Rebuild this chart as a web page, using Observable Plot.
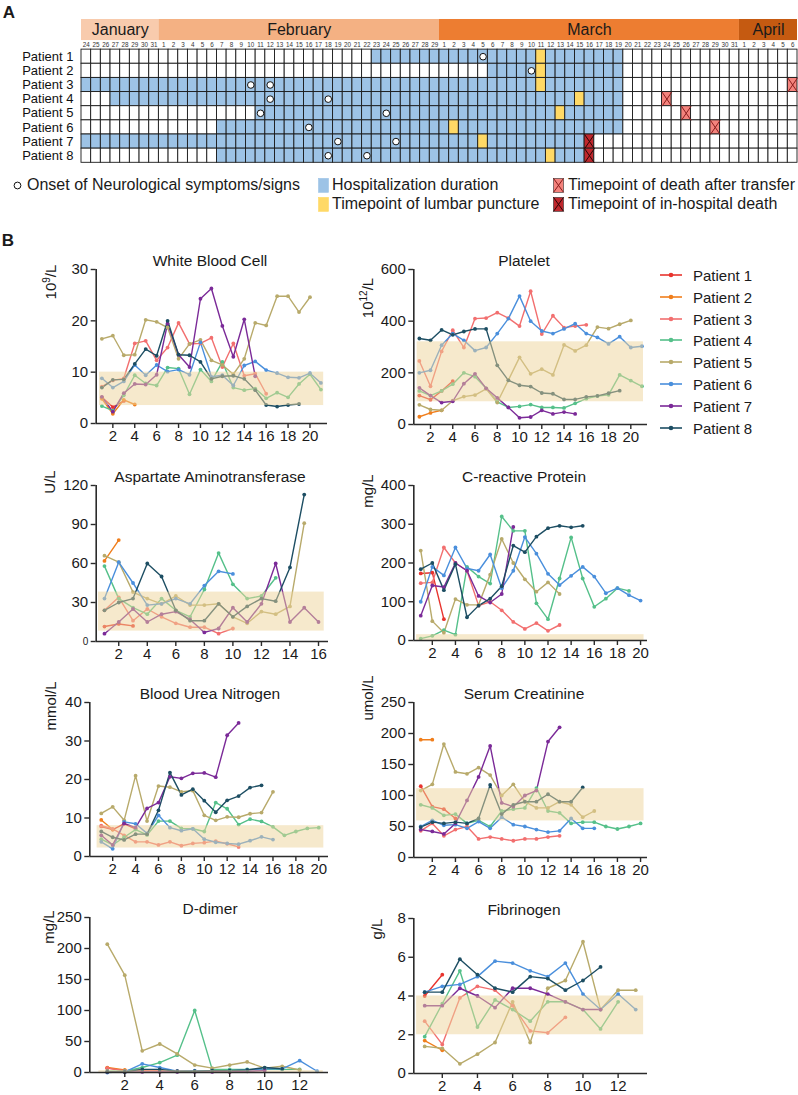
<!DOCTYPE html>
<html><head><meta charset="utf-8">
<script src="https://cdn.jsdelivr.net/npm/d3@7"></script>
<script src="https://cdn.jsdelivr.net/npm/@observablehq/plot@0.6"></script>
<style>
body{margin:0;background:#fff;font-family:"Liberation Sans",Arial,sans-serif;color:#1a1a1a;}
#root{position:relative;width:798px;height:1095px;overflow:hidden;background:#fff;}
.c{position:absolute;white-space:nowrap;transform:translate(-50%,-50%);line-height:1;}
.l{position:absolute;white-space:nowrap;transform:translate(0,-50%);line-height:1;}
.u{position:absolute;white-space:nowrap;transform:translate(-50%,-50%) rotate(-90deg);line-height:1;font-size:15px;}
.u sup{font-size:10px;vertical-align:6px;line-height:0;}
svg{overflow:visible;}
</style></head><body><div id="root"></div><script>
// ---------- Panel A data ----------
const monthNames = ["January", "February", "March", "April"];
const monthFirstDay = [24, 1, 1, 1];
const monthLastDay = [31, 29, 31, 6];
const monthColors = ["#f8cbad", "#f4b183", "#ed7d31", "#c55a11"];
const patients = ["Patient 1", "Patient 2", "Patient 3", "Patient 4", "Patient 5", "Patient 6", "Patient 7", "Patient 8"];
const patientColors = ["#e8342e", "#f07e1c", "#f26f6f", "#55c08a", "#b8aa6b", "#4a8fdc", "#7b2a98", "#1d4e63"];
const hospStart = ["Feb 23", "Mar 6", "Jan 24", "Jan 27", "Feb 11", "Feb 7", "Jan 24", "Feb 7"];
const hospEnd = ["Mar 19", "Mar 19", "Mar 19", "Mar 19", "Mar 19", "Mar 19", "Mar 15", "Mar 15"];
const onsetDates = [["Mar 5"], ["Mar 10"], ["Feb 10", "Feb 12"], ["Feb 12", "Feb 18"], ["Feb 11", "Feb 24"], ["Feb 16"], ["Feb 19", "Feb 25"], ["Feb 18", "Feb 22"]];
const lumbarDates = ["Mar 11", "Mar 11", "Mar 11", "Mar 15", "Mar 13", "Mar 2", "Mar 5", "Mar 12"];
const deathTransferDates = [null, null, "Apr 6", "Mar 24", "Mar 26", "Mar 29", null, null];
const deathHospitalDates = [null, null, null, null, null, null, "Mar 16", "Mar 16"];

// ---------- Panel B data (one array per patient, day 1..n) ----------
const wbc = [
 [5.1, 3.2, 4.4],
 [4.8, 1.9, 4.6, 3.7],
 [7.2, 8.4, 8.8, 15.6, 16.1, 12.3, 14.8, 19.6, 15.5, 15.6, 16.7, 11.0, 15.6, 9.3, 9.7, 5.8],
 [3.4, 2.5, 5.5, 9.4, 7.8, 7.4, 10.9, 10.7, 5.7, 10.5, 8.2, 12.0, 7.0, 6.5, 6.8, 4.9, 6.0, 5.1, 7.7, 9.6, 6.6],
 [16.5, 17.1, 13.3, 13.4, 20.2, 19.8, 18.7, 12.6, 15.5, 16.3, 12.3, 11.4, 9.6, 12.6, 19.6, 19.1, 24.8, 24.8, 21.7, 24.6],
 [8.8, 7.0, 8.2, 11.4, 9.4, 11.4, 10.1, 10.5, 9.5, 15.8, 9.1, 9.4, 7.4, 11.3, 12.1, 10.4, 9.8, 9.0, 8.9, 9.8, 7.9],
 [5.2, 2.3, 5.9, 7.7, 7.6, 9.5, 19.5, 13.4, 11.0, 24.3, 26.3, 19.0, 13.0, 20.3, 9.2],
 [7.0, 8.5, 8.6, 11.6, 14.5, 13.2, 20.0, 13.4, 13.3, 12.0, 8.7, 9.2, 9.3, 8.7, 6.5, 3.6, 3.3, 3.6, 3.8]
];
const platelet = [
 [112, 96, 130, 168],
 [30, 45, 55],
 [246, 148, 283, 365, 298, 410, 412, 433, 412, 381, 516, 350, 421, 375, 381, 386],
 [130, 112, 130, 156, 200, 185, 140, 88, 66, 70, 77, 66, 66, 64, 82, 100, 110, 115, 192, 170, 148],
 [76, 58, 55, 92, 108, 114, 138, 85, 172, 260, 196, 214, 192, 308, 285, 307, 377, 371, 388, 403],
 [200, 210, 307, 352, 326, 286, 298, 352, 410, 497, 400, 362, 352, 370, 390, 352, 337, 312, 340, 298, 303],
 [142, 112, 85, 90, 158, 196, 140, 103, 66, 26, 29, 55, 41, 48, 41],
 [333, 326, 366, 347, 360, 370, 370, 229, 171, 152, 147, 122, 119, 97, 97, 107, 111, 121, 131]
];
const ast = [
 [11.5, 13.5, 12],
 [62, 78],
 [24, 34, 16, 25, 19, 14, 11, 11, 6, 10],
 [58, 33, 26, 21, 33, 24, 19, 40, 68, 44, 33, 35, 49],
 [66, 61, 38, 33, 29, 35, 28, 28, 29, 19, 14, 23, 21, 27, 91],
 [33, 61, 45, 28, 29, 33, 29, 43, 54, 52],
 [6, 15, 25, 15, 21, 23, 17, 7, 10, 26, 15, 29, 60, 15, 26, 15],
 [24, 30, 33, 60, 50, 24, 16, 16, 29, 19, 27, 33, 31, 57, 113]
];
const crp = [
 [173, 175, 55],
 [],
 [148, 150, 240, 200, 180, 90, 100, 78, 48, 30, 45, 25, 40],
 [5, 12, 27, 15, 190, 165, 147, 320, 283, 283, 96, 55, 160, 266, 160, 87, 108, 135, 128],
 [232, 50, 20, 107, 92, 92, 170, 262, 200, 158, 126, 150, 120],
 [100, 190, 168, 240, 186, 180, 222, 135, 180, 267, 224, 172, 143, 167, 190, 165, 122, 135, 117, 103],
 [64, 142, 138, 200, 180, 115, 98, 120, 293],
 [184, 200, 130, 197, 60, 90, 108, 140, 245, 228, 268, 290, 296, 292, 296]
];
const bun = [
 [7.8, 7.0, 8.5, 7.2],
 [9.5, 7.0],
 [8.0, 7.2, 5.5, 3.8, 3.8, 3.0, 3.8, 2.8, 3.4, 3.6, 4.0, 3.3, 2.5],
 [4.5, 3.0, 5.0, 7.0, 5.6, 9.2, 9.2, 7.3, 7.2, 6.5, 14.0, 12.4, 8.3, 9.7, 9.1, 7.7, 5.5, 6.5, 7.3, 7.5],
 [11.2, 12.9, 9.4, 21.0, 9.2, 18.3, 18.0, 16.8, 17.1, 10.7, 9.4, 10.3, 10.2, 11.1, 11.4, 16.8],
 [3.8, 2.0, 9.0, 8.5, 6.0, 10.7, 7.5, 6.7, 7.2, 4.5, 3.7, 3.4, 3.2, 4.1, 5.1, 4.4],
 [5.5, 3.0, 8.6, 7.5, 12.5, 14.0, 20.7, 20.3, 21.6, 21.7, 20.6, 31.5, 34.7],
 [6.5, 5.0, 4.3, 5.8, 5.8, 12.0, 21.8, 16.0, 17.5, 14.5, 11.5, 14.6, 15.7, 17.9, 18.5]
];
const creatinine = [
 [115, 82, 78, 63],
 [190, 190],
 [43, 55, 35, 45, 50, 30, 33, 30, 27, 30, 30, 33, 35],
 [85, 80, 68, 70, 55, 60, 50, 75, 78, 80, 112, 75, 72, 55, 57, 57, 50, 46, 50, 55],
 [108, 118, 183, 138, 135, 145, 133, 100, 118, 90, 80, 80, 90, 85, 65, 75],
 [50, 60, 52, 53, 47, 58, 47, 65, 53, 50, 45, 41, 43, 63, 47, 47],
 [45, 42, 38, 55, 92, 130, 180, 88, 82, 100, 108, 187, 210],
 [49, 57, 55, 57, 55, 63, 117, 70, 85, 90, 90, 102, 90, 90, 113]
];
const ddimer = [
 [7, 3],
 [8, 4],
 [7, 3, 4, 3, 2, 2, 2, 1],
 [2, 2, 8, 16, 28, 100, 5, 5, 5, 5, 5, 5],
 [207, 157, 35, 46, 30, 12, 7, 12, 17, 7, 10, 4],
 [0, 1, 14, 8, 2, 3, 3, 3, 4, 6, 6, 19, 2],
 [1, 1, 1, 1, 1, 1, 1, 1, 2, 3],
 [1, 1, 5, 5, 2, 2, 3, 3, 4, 8, 6]
];
const fibrinogen = [
 [4.0, 5.1],
 [1.7, 1.2],
 [2.7, 1.5, 3.9, 4.5, 4.3, 3.5, 2.2, 2.1, 2.9],
 [1.9, 3.6, 5.3, 2.4, 3.8, 3.3, 2.7, 3.7, 3.7, 3.3, 2.3, 3.7],
 [1.4, 1.3, 0.5, 1.0, 1.6, 3.7, 1.6, 4.4, 4.8, 6.8, 3.3, 4.3, 4.3],
 [4.2, 4.5, 4.6, 5.0, 5.8, 5.7, 5.3, 5.0, 5.7, 4.1, 3.3, 4.1, 3.3],
 [3.5, 3.5, 4.4, 4.0, 3.4, 4.4, 4.4, 4.1, 3.7, 3.3, 3.3],
 [4.2, 4.2, 5.9, 5.1, 4.4, 4.2, 5.0, 4.9, 4.3, 4.8, 5.5]
];
// reference ranges
const wbcRange = [3.5, 10], plateletRange = [88, 320], astRange = [8, 38], crpRange = [0, 15];
const bunRange = [2.2, 8], creatinineRange = [59, 111], ddimerRange = [0, 3], fibrinogenRange = [2, 4];
// tick labels
const xTicks20 = [2, 4, 6, 8, 10, 12, 14, 16, 18, 20];
const xTicks16 = [2, 4, 6, 8, 10, 12, 14, 16];
const xTicks12 = [2, 4, 6, 8, 10, 12];
const wbcTicks = [0, 10, 20, 30], plateletTicks = [0, 200, 400, 600], astTicks = [0, 30, 60, 90, 120];
const crpTicks = [0, 100, 200, 300, 400], bunTicks = [0, 10, 20, 30, 40], creatinineTicks = [0, 50, 100, 150, 200, 250];
const ddimerTicks = [0, 50, 100, 150, 200, 250], fibrinogenTicks = [0, 2, 4, 6, 8];

// ---------- helpers ----------
const FONT = '"Liberation Sans", Arial, sans-serif';
const root = document.getElementById("root");
function addDiv(cls, html, x, y, extra = {}) {
  const d = document.createElement("div");
  d.className = cls; d.innerHTML = html;
  Object.assign(d.style, {left: x + "px", top: y + "px"}, extra);
  root.appendChild(d); return d;
}
function place(svg, x, y) {
  svg.style.position = "absolute"; svg.style.left = x + "px"; svg.style.top = y + "px";
  svg.style.background = "transparent"; svg.style.maxWidth = "none";
  root.appendChild(svg);
}

// ---------- Panel A ----------
const days = [];
monthNames.forEach((m, k) => { for (let d = monthFirstDay[k]; d <= monthLastDay[k]; d++) days.push({month: m.slice(0, 3), day: d, i: days.length}); });
const dayIndex = s => { const [m, d] = s.split(" "); return days.findIndex(e => e.month === m && e.day === +d); };
const monthBlocks = monthNames.map((m, k) => ({name: m, x1: dayIndex(m.slice(0, 3) + " " + monthFirstDay[k]), x2: dayIndex(m.slice(0, 3) + " " + monthLastDay[k]) + 1, color: monthColors[k]}));
const HOSP = "#9dc3e6", LP = "#ffd966", DT = "#f4837d", DH = "#c0272d";
const cells = [], deaths = [], onsets = [];
patients.forEach((p, r) => {
  const s = dayIndex(hospStart[r]), e = dayIndex(hospEnd[r]), lp = dayIndex(lumbarDates[r]);
  const dt = deathTransferDates[r] ? dayIndex(deathTransferDates[r]) : -1;
  const dh = deathHospitalDates[r] ? dayIndex(deathHospitalDates[r]) : -1;
  days.forEach(d => {
    let fill = d.i >= s && d.i <= e ? HOSP : "#ffffff";
    if (d.i === lp) fill = LP;
    if (d.i === dt) fill = DT;
    if (d.i === dh) fill = DH;
    cells.push({i: d.i, r, fill});
  });
  if (dt >= 0) deaths.push({i: dt, r, c: "#8a1c1c"});
  if (dh >= 0) deaths.push({i: dh, r, c: "#2a0505"});
  onsetDates[r].forEach(o => onsets.push({i: dayIndex(o), r}));
});
const panelA = Plot.plot({
  width: 798, height: 166, marginLeft: 81, marginRight: 1, marginTop: 18, marginBottom: 3.7,
  x: {domain: [0, days.length], axis: null},
  y: {domain: [-2.2, 8], range: [18, 162.3], axis: null},
  color: {type: "identity"},
  style: {fontFamily: FONT, background: "transparent"},
  marks: [
    Plot.rect(monthBlocks, {x1: "x1", x2: "x2", y1: () => -2.13, y2: () => -0.64, fill: "color"}),
    Plot.text(monthBlocks, {x: d => (d.x1 + d.x2) / 2, y: () => -1.385, text: "name", fontSize: 16, fill: "#1a1a1a"}),
    Plot.text(days, {x: d => d.i + 0.5, y: () => -0.33, text: "day", fontSize: 6.3, fill: "#333"}),
    Plot.rect(cells, {x1: "i", x2: d => d.i + 1, y1: "r", y2: d => d.r + 1, fill: "fill", stroke: "#1a1a1a", strokeWidth: 0.9}),
    Plot.link(deaths, {x1: "i", y1: "r", x2: d => d.i + 1, y2: d => d.r + 1, stroke: "c", strokeWidth: 1}),
    Plot.link(deaths, {x1: "i", y1: d => d.r + 1, x2: d => d.i + 1, y2: "r", stroke: "c", strokeWidth: 1}),
    Plot.dot(onsets, {x: d => d.i + 0.5, y: d => d.r + 0.5, r: 3.3, fill: "white", stroke: "#111", strokeWidth: 1}),
    Plot.text(patients, {x: () => 0, y: (d, r) => r + 0.5, text: d => d, textAnchor: "end", dx: -8, fontSize: 13, fill: "#111"})
  ]
});
place(panelA, 0, 0);
addDiv("c", "<b>A</b>", 9, 12, {fontSize: "17px"});
// Panel A legend
const sq = (fill, x) => `<svg width="11" height="15" style="vertical-align:middle"><rect x="0.5" y="0.5" width="10" height="14" fill="${fill}" stroke="${x ? "#333" : fill}" stroke-width="0.6"/>${x ? `<line x1="0.5" y1="0.5" x2="10.5" y2="14.5" stroke="${x}"/><line x1="10.5" y1="0.5" x2="0.5" y2="14.5" stroke="${x}"/>` : ""}</svg>`;
addDiv("l", `<svg width="9" height="9" style="vertical-align:middle"><circle cx="4.5" cy="4.5" r="3.4" fill="white" stroke="#111"/></svg>`, 13, 185);
addDiv("l", "Onset of Neurological symptoms/signs", 27, 185, {fontSize: "16px"});
addDiv("l", sq(HOSP), 318, 185);
addDiv("l", "Hospitalization duration", 332, 185, {fontSize: "16px"});
addDiv("l", sq(LP), 318, 204);
addDiv("l", "Timepoint of lumbar puncture", 332, 204, {fontSize: "16px"});
addDiv("l", sq(DT, "#8a1c1c"), 553, 185);
addDiv("l", "Timepoint of death after transfer", 568, 185, {fontSize: "16px"});
addDiv("l", sq(DH, "#2a0505"), 553, 204);
addDiv("l", "Timepoint of in-hospital death", 568, 204, {fontSize: "16px"});

// ---------- Panel B ----------
addDiv("c", "<b>B</b>", 8, 240, {fontSize: "17px"});
const specs = [
  {title: "White Blood Cell", unit: "10<sup>9</sup>/L", values: wbc, band: wbcRange, left: 0, axisX: 95.7, endX: 326.7, yTop: 269.3, y0: 423.3, xDomain: [0.48, 21.6], yDomain: [0, 30], xTicks: xTicks20, yTicks: wbcTicks, bandX: [0.78, 21.25], titleX: 210, unitX: 50, unitY: 282},
  {title: "Aspartate Aminotransferase", unit: "U/L", values: ast, band: astRange, left: 0, axisX: 95.7, endX: 328.3, yTop: 485, y0: 641, xDomain: [0.42, 16.7], yDomain: [0, 120], xTicks: xTicks16, yTicks: astTicks, bandX: [0.58, 16.4], titleX: 210, unitX: 49, unitY: 482, smallZero: true},
  {title: "Blood Urea Nitrogen", unit: "mmol/L", values: bun, band: bunRange, left: 0, axisX: 89.3, endX: 328, yTop: 702, y0: 856, xDomain: [0, 20.85], yDomain: [0, 40], xTicks: xTicks20, yTicks: bunTicks, bandX: [0.64, 20.44], titleX: 210, unitX: 50, unitY: 706},
  {title: "D-dimer", unit: "mg/L", values: ddimer, band: ddimerRange, left: 0, axisX: 89.3, endX: 328.3, yTop: 917, y0: 1072, xDomain: [0, 13.65], yDomain: [0, 250], xTicks: xTicks12, yTicks: ddimerTicks, bandX: [0.52, 13.35], titleX: 210, unitX: 48, unitY: 927},
  {title: "Platelet", unit: "10<sup>12</sup>/L", values: platelet, band: plateletRange, left: 340, axisX: 413.3, endX: 646.7, yTop: 269.3, y0: 424.7, xDomain: [0.5, 21.5], yDomain: [0, 600], xTicks: xTicks20, yTicks: plateletTicks, bandX: [0.8, 21.14], titleX: 524, unitX: 367, unitY: 298},
  {title: "C-reactive Protein", unit: "mg/L", values: crp, band: crpRange, left: 340, axisX: 413.3, endX: 646.7, yTop: 485, y0: 640, xDomain: [0.4, 20.6], yDomain: [0, 400], xTicks: xTicks20, yTicks: crpTicks, bandX: [0.64, 20.3], titleX: 524, unitX: 367, unitY: 491},
  {title: "Serum Creatinine", unit: "umol/L", values: creatinine, band: creatinineRange, left: 340, axisX: 413.3, endX: 646.7, yTop: 701.7, y0: 856.7, xDomain: [0.4, 20.6], yDomain: [0, 250], xTicks: xTicks20, yTicks: creatinineTicks, bandX: [0.64, 20.3], titleX: 524, unitX: 367, unitY: 698},
  {title: "Fibrinogen", unit: "g/L", values: fibrinogen, band: fibrinogenRange, left: 340, axisX: 413.3, endX: 646.7, yTop: 917.7, y0: 1072.3, xDomain: [0.38, 13.67], yDomain: [0, 8], xTicks: xTicks12, yTicks: fibrinogenTicks, bandX: [0.54, 13.45], titleX: 524, unitX: 376, unitY: 929}
];
const AX = "#2b2b2b";
function drawChart(s) {
  const rows = s.values.flatMap((arr, p) => arr.map((v, k) => ({patient: patients[p], day: k + 1, value: v})));
  const mt = 12, mb = 34, mr = 6;
  const axisOpts = {tickSize: 5, fontSize: 15, strokeWidth: 1.4, label: null, stroke: AX, fill: "#1a1a1a"};
  const marks = [
    Plot.line(rows, {x: "day", y: "value", z: "patient", stroke: "patient", strokeWidth: 1.4}),
    Plot.dot(rows, {x: "day", y: "value", fill: "patient", r: 1.9}),
    Plot.rect([{lo: s.band[0], hi: s.band[1]}], {x1: () => s.bandX[0], x2: () => s.bandX[1], y1: "lo", y2: "hi", fill: "#eed49a", fillOpacity: 0.5}),
    Plot.ruleX([s.xDomain[0]], {stroke: AX, strokeWidth: 1.6}),
    Plot.ruleY([s.yDomain[0]], {stroke: AX, strokeWidth: 1.6}),
    Plot.axisX({...axisOpts, ticks: s.xTicks, tickPadding: 2})
  ];
  if (s.smallZero) {
    marks.push(Plot.axisY({...axisOpts, ticks: s.yTicks.filter(t => t !== 0), tickPadding: 3}));
    marks.push(Plot.axisY({...axisOpts, ticks: [0], tickPadding: 3, fontSize: 10}));
  } else {
    marks.push(Plot.axisY({...axisOpts, ticks: s.yTicks, tickPadding: 3}));
  }
  const svg = Plot.plot({
    width: Math.round(s.endX - s.left + mr), height: Math.round(s.y0 - s.yTop + mt + mb),
    marginLeft: s.axisX - s.left, marginRight: mr, marginTop: mt, marginBottom: mb,
    x: {domain: s.xDomain}, y: {domain: s.yDomain},
    color: {domain: patients, range: patientColors},
    style: {fontFamily: FONT, background: "transparent", color: "#1a1a1a"},
    marks
  });
  place(svg, s.left, s.yTop - mt);
  addDiv("c", s.title, s.titleX, s.yTop - 8, {fontSize: "15.5px"});
  addDiv("u", s.unit, s.unitX, s.unitY);
}
specs.forEach(drawChart);
// patient legend
patients.forEach((p, i) => {
  const y = 275 + i * 21.8, c = patientColors[i];
  addDiv("l", `<svg width="22" height="8" style="display:block"><line x1="0" y1="4" x2="22" y2="4" stroke="${c}" stroke-width="1.6"/><circle cx="11" cy="4" r="2.3" fill="${c}"/></svg>`, 660, y);
  addDiv("l", p, 693, y, {fontSize: "15px"});
});
</script></body></html>
